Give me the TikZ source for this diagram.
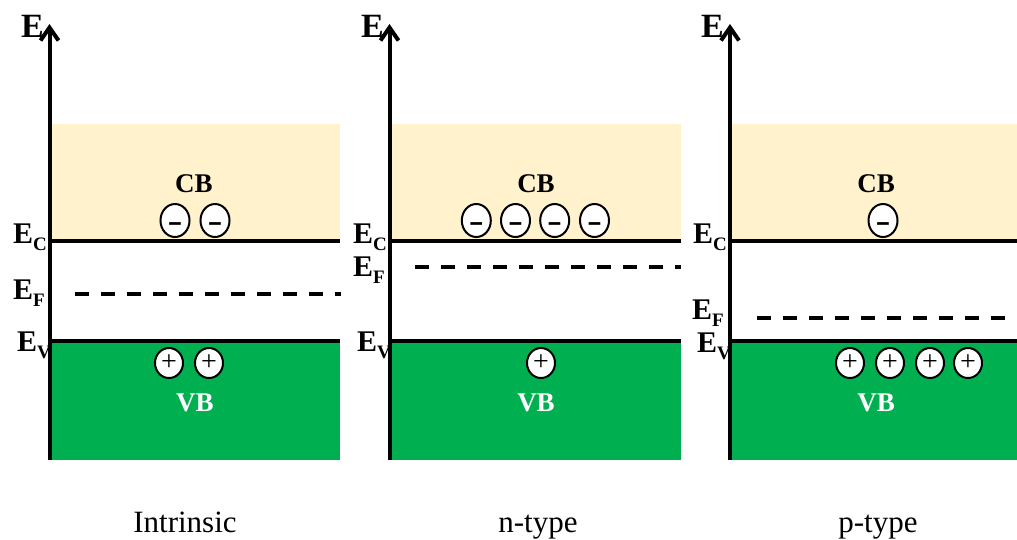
\documentclass[tikz,border=0pt]{standalone}
\usepackage{fontspec}
\setmainfont{Liberation Serif}
\usetikzlibrary{arrows.meta,shapes.geometric}

\definecolor{cbfill}{HTML}{FFF2CC}
\definecolor{vbfill}{HTML}{00B050}

% energy level label: bold E with a bold lowered subscript
\newcommand{\elevel}[1]{{\fontsize{30}{30}\selectfont\bfseries E}\raisebox{-7pt}{\fontsize{19}{19}\selectfont\bfseries #1}}
% widened bold minus for the electrons
\newcommand{\eminus}{\scalebox{1.4}[1]{-}}

\tikzset{
  axisline/.style={line width=4pt, -{Straight Barb[length=13pt,width=18pt]}},
  bandedge/.style={line width=3.5pt},
  fermi/.style={line width=4pt, dash pattern=on 14pt off 12pt},
  carrier/.style={ellipse, draw, line width=2pt, fill=white, inner sep=0pt, text depth=0pt},
  elec/.style={carrier, minimum width=29pt, minimum height=33pt,
    font=\fontsize{32}{32}\selectfont\bfseries, text height=21.4pt},
  hole/.style={carrier, minimum width=28pt, minimum height=30pt,
    font=\fontsize{28}{28}\selectfont, text height=14.2pt},
  lvl/.style={anchor=base west, inner sep=0pt},
  axlabel/.style={anchor=base west, inner sep=0pt, font=\fontsize{34}{34}\selectfont\bfseries},
  bandname/.style={inner sep=0pt, font=\fontsize{27}{27}\selectfont\bfseries},
  caption/.style={anchor=base, inner sep=0pt, font=\fontsize{31}{31}\selectfont},
}

\begin{document}
\begin{tikzpicture}[x=1pt, y=-1pt]
\useasboundingbox (0,0) rectangle (1017,539);

% ---------- Intrinsic ----------
\fill[cbfill] (50,124) rectangle (340,241);
\fill[vbfill] (50,341) rectangle (340,460);
\coordinate (a1b) at (49.5,460);
\coordinate (a1t) at (49.5,24);
\draw[axisline] (a1b) -- (a1t);
\coordinate (c1l) at (50,241); \coordinate (c1r) at (340,241);
\coordinate (v1l) at (50,341); \coordinate (v1r) at (340,341);
\coordinate (f1l) at (75,294); \coordinate (f1r) at (341,294);
\draw[bandedge] (c1l) -- (c1r);
\draw[bandedge] (v1l) -- (v1r);
\draw[fermi] (f1l) -- (f1r);
\node[axlabel] (e1) at (21,37) {E};
\node[lvl] (ec1) at (13,243) {\elevel{C}};
\node[lvl] (ef1) at (13,299) {\elevel{F}};
\node[lvl] (ev1) at (17,351) {\elevel{V}};
\node[bandname] (cb1) at (194,184) {CB};
\node[bandname, text=white] (vb1) at (195,403) {VB};
\node[elec] (n11) at (175,220.5) {\eminus};
\node[elec] (n12) at (215,220.5) {\eminus};
\node[hole] (p11) at (169,363) {+};
\node[hole] (p12) at (209,363) {+};
\node[caption] (t1) at (185,532) {Intrinsic};

% ---------- n-type ----------
\fill[cbfill] (390,124) rectangle (681,241);
\fill[vbfill] (390,341) rectangle (681,460);
\coordinate (a2b) at (389.5,460);
\coordinate (a2t) at (389.5,24);
\draw[axisline] (a2b) -- (a2t);
\coordinate (c2l) at (390,241); \coordinate (c2r) at (681,241);
\coordinate (v2l) at (390,341); \coordinate (v2r) at (681,341);
\coordinate (f2l) at (415,267); \coordinate (f2r) at (681,267);
\draw[bandedge] (c2l) -- (c2r);
\draw[bandedge] (v2l) -- (v2r);
\draw[fermi] (f2l) -- (f2r);
\node[axlabel] (e2) at (361,37) {E};
\node[lvl] (ec2) at (353,243) {\elevel{C}};
\node[lvl] (ef2) at (353,276) {\elevel{F}};
\node[lvl] (ev2) at (357,351) {\elevel{V}};
\node[bandname] (cb2) at (536,184) {CB};
\node[bandname, text=white] (vb2) at (536,403) {VB};
\node[elec] (n21) at (476.3,220.5) {\eminus};
\node[elec] (n22) at (515.5,220.5) {\eminus};
\node[elec] (n23) at (554.7,220.5) {\eminus};
\node[elec] (n24) at (594.5,220.5) {\eminus};
\node[hole] (p21) at (541,363) {+};
\node[caption] (t2) at (538,532) {n-type};

% ---------- p-type ----------
\fill[cbfill] (730,124) rectangle (1017,241);
\fill[vbfill] (730,341) rectangle (1017,460);
\coordinate (a3b) at (730,460);
\coordinate (a3t) at (730,24);
\draw[axisline] (a3b) -- (a3t);
\coordinate (c3l) at (730,241); \coordinate (c3r) at (1017,241);
\coordinate (v3l) at (730,341); \coordinate (v3r) at (1017,341);
\coordinate (f3l) at (757,318); \coordinate (f3r) at (1008,318);
\draw[bandedge] (c3l) -- (c3r);
\draw[bandedge] (v3l) -- (v3r);
\draw[fermi] (f3l) -- (f3r);
\node[axlabel] (e3) at (701,37) {E};
\node[lvl] (ec3) at (693,243) {\elevel{C}};
\node[lvl] (ef3) at (692,319) {\elevel{F}};
\node[lvl] (ev3) at (697,352) {\elevel{V}};
\node[bandname] (cb3) at (876,184) {CB};
\node[bandname, text=white] (vb3) at (876,403) {VB};
\node[elec] (n31) at (883,220.5) {\eminus};
\node[hole] (p31) at (850,363) {+};
\node[hole] (p32) at (890,363) {+};
\node[hole] (p33) at (930,363) {+};
\node[hole] (p34) at (968,363) {+};
\node[caption] (t3) at (878,532) {p-type};
\end{tikzpicture}
\end{document}
